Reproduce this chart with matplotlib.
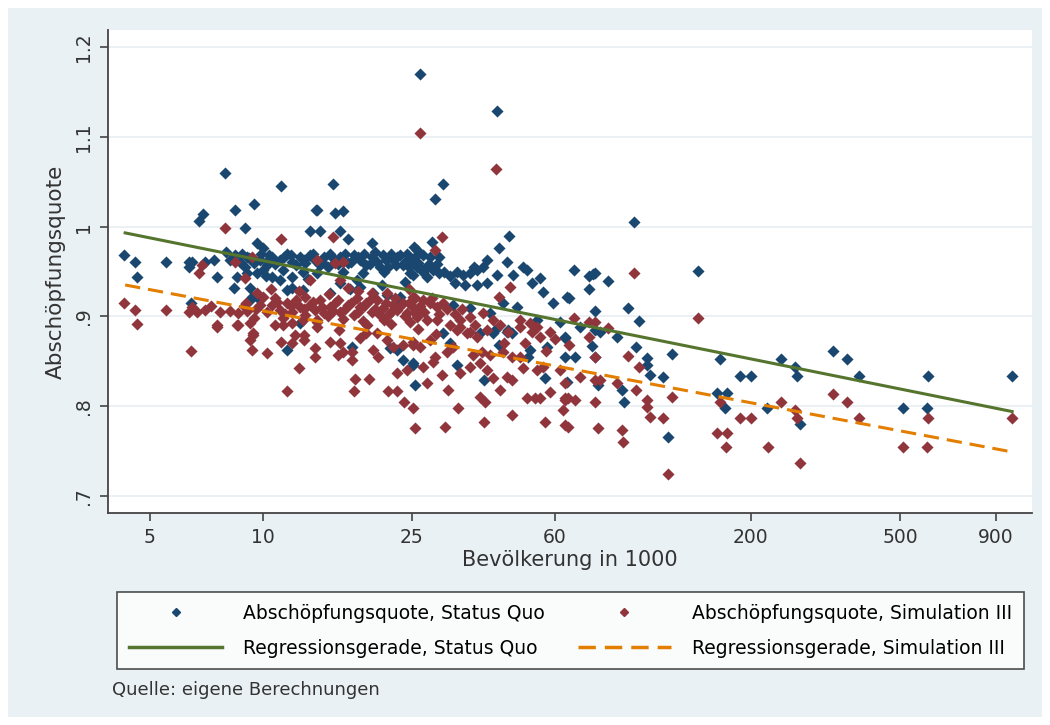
import numpy as np
import matplotlib
matplotlib.use("Agg")
import matplotlib.pyplot as plt
from matplotlib.patches import Rectangle
from matplotlib.lines import Line2D
from matplotlib.ticker import FixedLocator, NullLocator, FixedFormatter

plt.rcParams['font.family'] = ['DejaVu Sans']

# (Bevoelkerung in 1000, Abschoepfungsquote)
status_quo = [
    (7.92, 1.060), (9.46, 1.025), (8.43, 1.018), (6.92, 1.014), (6.76, 1.006), (8.96, 0.998),
    (9.64, 0.982), (10.0, 0.976), (4.26, 0.968), (4.56, 0.961), (5.52, 0.961), (4.62, 0.944),
    (6.35, 0.961), (6.35, 0.955), (7.01, 0.961), (7.54, 0.944), (8.53, 0.944), (9.07, 0.948),
    (9.64, 0.948), (9.24, 0.932), (6.43, 0.915), (9.24, 0.918), (8.17, 0.963), (8.43, 0.968),
    (8.69, 0.961), (9.07, 0.966), (9.46, 0.959), (9.82, 0.963), (10.26, 0.957), (10.4, 0.968),
    (8.96, 0.955), (10.0, 0.952), (6.5, 0.961), (7.4, 0.963), (8.0, 0.972), (8.4, 0.932),
    (9.36, 0.922), (9.7, 0.920), (13.9, 1.018), (14.2, 0.995),
    (10.6, 0.966), (11.1, 0.963), (11.6, 0.970), (12.0, 0.961), (12.6, 0.966), (13.0, 0.959),
    (13.4, 0.968), (13.8, 0.963), (14.2, 0.957), (14.6, 0.966), (15.1, 0.970), (15.6, 0.961),
    (16.1, 0.966), (16.9, 0.959), (17.5, 0.968), (18.2, 0.963), (18.9, 0.957), (19.6, 0.966),
    (20.2, 0.961), (20.9, 0.968), (21.6, 0.955), (22.2, 0.963), (22.8, 0.966), (23.6, 0.957),
    (24.2, 0.970), (25.1, 0.961), (25.8, 0.955), (11.3, 0.952), (12.8, 0.950), (14.0, 0.948),
    (16.4, 0.950), (18.5, 0.948), (21.0, 0.950), (24.7, 0.948),
    (8.8, 0.970), (9.2, 0.965), (9.9, 0.970), (10.3, 0.962), (10.8, 0.958), (11.4, 0.966),
    (11.9, 0.968), (12.3, 0.957), (12.9, 0.963), (13.6, 0.970), (14.4, 0.961), (14.9, 0.955),
    (15.4, 0.965), (15.9, 0.958), (16.6, 0.970), (17.2, 0.961), (17.9, 0.966), (18.6, 0.970),
    (19.3, 0.958), (19.9, 0.972), (20.5, 0.955), (21.3, 0.963), (22.0, 0.970), (22.6, 0.957),
    (23.3, 0.968), (23.9, 0.961), (24.5, 0.955), (25.5, 0.966), (26.0, 0.960), (26.8, 0.950),
    (27.7, 0.958), (28.5, 0.952), (29.2, 0.958), (30.5, 0.950), (31.5, 0.945), (33.0, 0.950),
    (36.5, 0.955), (10.2, 0.945), (13.2, 0.942), (17.8, 0.940), (20.8, 0.935), (24.0, 0.938),
    (11.2, 1.045), (15.4, 1.047), (14.0, 1.018), (15.6, 1.015), (16.4, 1.017), (13.4, 0.995),
    (16.1, 0.995), (16.9, 0.986), (19.6, 0.982), (25.3, 0.977),
    (10.6, 0.944), (11.95, 0.932), (12.8, 0.929), (15.1, 0.926), (18.2, 0.933), (19.7, 0.926),
    (21.4, 0.924), (22.5, 0.915), (23.2, 0.922), (11.1, 0.941), (12.0, 0.944), (11.6, 0.929),
    (12.6, 0.893), (11.6, 0.863), (17.3, 0.866), (21.8, 0.865), (22.8, 0.863), (23.6, 0.851),
    (25.1, 0.848), (25.5, 0.824), (16.1, 0.937), (17.1, 0.930),
    (26.2, 1.170), (42.1, 1.129),
    (30.2, 1.047), (28.8, 1.031), (45.3, 0.990), (42.6, 0.976), (28.2, 0.983),
    (25.8, 0.974), (26.7, 0.968), (27.9, 0.966), (29.6, 0.966),
    (24.7, 0.963), (26.2, 0.955), (27.4, 0.955),
    (25.1, 0.946), (27.4, 0.944), (29.6, 0.948),
    (39.6, 0.963), (38.6, 0.955), (37.2, 0.952), (35.7, 0.948), (34.2, 0.946),
    (44.8, 0.961), (49.4, 0.955), (50.6, 0.952), (54.8, 0.943),
    (32.5, 0.937), (34.6, 0.935), (37.2, 0.935), (39.6, 0.937),
    (42.1, 0.946), (46.5, 0.946), (52.2, 0.937), (55.8, 0.927),
    (59.4, 0.915), (64.7, 0.922),
    (32.1, 0.913), (35.7, 0.909), (40.4, 0.904), (43.7, 0.915), (47.6, 0.910),
    (30.2, 0.882), (41.1, 0.882), (44.8, 0.883), (53.8, 0.896), (67.5, 0.952),
    (32.9, 0.846), (25.1, 0.846), (38.9, 0.829), (42.6, 0.868), (46.1, 0.882), (45.1, 0.885),
    (51.5, 0.863), (50.9, 0.855), (57.2, 0.866), (56.5, 0.831), (63.9, 0.876), (64.7, 0.827),
    (31.5, 0.870), (37.9, 0.882), (41.6, 0.885),
    (97.6, 1.005), (74.1, 0.945), (75.9, 0.947), (76.9, 0.948), (83.2, 0.939), (74.1, 0.931),
    (65.5, 0.920), (145, 0.951), (94.1, 0.909), (101, 0.895), (76.9, 0.906), (62.0, 0.894),
    (63.9, 0.877), (70.1, 0.888), (76.9, 0.885), (79.2, 0.883), (87.9, 0.877), (75.5, 0.867),
    (98.8, 0.866), (63.9, 0.855), (68.0, 0.855), (76.9, 0.855), (106, 0.854), (106, 0.846),
    (108, 0.835), (123, 0.858), (117, 0.833), (166, 0.853), (187, 0.834), (200, 0.834),
    (241, 0.853), (262, 0.844), (266, 0.834), (271, 0.780), (331, 0.861), (361, 0.853),
    (389, 0.834), (509, 0.798), (594, 0.834), (590, 0.798), (995, 0.834), (78.3, 0.824),
    (90.7, 0.818), (91.8, 0.805), (120, 0.766), (163, 0.815), (173, 0.815), (171, 0.798),
    (221, 0.798),
]

simulation_iii = [
    (7.92, 0.999), (6.88, 0.957), (6.76, 0.948), (8.43, 0.961), (8.96, 0.943), (9.36, 0.966),
    (4.26, 0.915), (4.56, 0.907), (5.52, 0.907), (4.62, 0.892), (6.35, 0.905), (6.67, 0.905),
    (7.01, 0.907), (7.54, 0.890), (7.68, 0.905), (8.17, 0.906), (8.58, 0.904), (9.07, 0.906),
    (9.64, 0.926), (10.0, 0.922), (8.58, 0.890), (9.41, 0.882), (6.43, 0.861), (7.54, 0.888),
    (8.53, 0.890), (9.24, 0.893), (9.41, 0.879), (9.24, 0.874), (9.36, 0.863), (10.26, 0.859),
    (9.82, 0.913), (9.46, 0.898), (6.5, 0.910), (7.3, 0.912), (8.9, 0.912),
    (11.2, 0.986), (15.4, 0.988), (14.0, 0.963), (15.6, 0.959), (16.4, 0.961), (13.4, 0.941),
    (16.1, 0.941), (16.9, 0.932), (19.6, 0.926), (25.5, 0.920),
    (10.6, 0.913), (11.1, 0.907), (11.6, 0.915), (12.0, 0.905), (12.6, 0.910), (13.0, 0.902),
    (13.4, 0.913), (13.8, 0.907), (14.2, 0.918), (14.6, 0.904), (15.1, 0.910), (15.6, 0.915),
    (16.1, 0.905), (16.9, 0.913), (17.5, 0.902), (18.2, 0.910), (18.9, 0.915), (19.6, 0.905),
    (20.2, 0.918), (20.9, 0.909), (21.6, 0.902), (22.2, 0.913), (22.8, 0.907), (23.6, 0.915),
    (24.2, 0.904), (25.1, 0.910), (25.8, 0.902), (11.3, 0.898), (12.8, 0.896), (14.0, 0.894),
    (16.4, 0.897), (18.5, 0.895), (21.0, 0.896), (24.7, 0.894), (10.8, 0.920), (13.0, 0.922),
    (17.8, 0.921), (10.8, 0.890), (11.3, 0.890), (12.0, 0.893),
    (9.0, 0.915), (9.6, 0.908), (10.3, 0.905), (10.9, 0.916), (11.5, 0.903), (11.9, 0.912),
    (12.3, 0.918), (12.9, 0.908), (13.6, 0.916), (14.4, 0.910), (14.9, 0.900), (15.4, 0.906),
    (15.9, 0.918), (16.6, 0.908), (17.2, 0.915), (17.9, 0.905), (18.6, 0.912), (19.3, 0.918),
    (19.9, 0.908), (20.6, 0.901), (21.3, 0.915), (22.0, 0.905), (22.5, 0.920), (23.1, 0.910),
    (23.9, 0.900), (24.5, 0.915), (25.5, 0.905), (26.3, 0.912), (27.0, 0.905), (28.2, 0.920),
    (29.6, 0.903), (31.0, 0.908), (32.5, 0.903), (34.0, 0.908), (10.5, 0.930), (12.5, 0.928),
    (15.0, 0.925), (18.0, 0.928), (21.5, 0.926), (24.5, 0.930), (16.0, 0.885), (19.0, 0.890),
    (22.0, 0.892), (26.0, 0.886), (29.0, 0.880), (31.5, 0.890), (44.0, 0.870), (50.0, 0.870),
    (57.0, 0.862), (60.0, 0.875),
    (11.2, 0.871), (12.0, 0.870), (12.2, 0.879), (12.9, 0.879), (12.9, 0.874), (12.5, 0.843),
    (11.6, 0.817), (13.8, 0.865), (13.8, 0.855), (15.1, 0.871), (16.1, 0.870), (16.4, 0.860),
    (15.9, 0.857), (17.3, 0.860), (17.3, 0.851), (14.0, 0.888), (14.0, 0.896), (17.6, 0.830),
    (19.2, 0.830), (17.5, 0.817), (18.2, 0.876), (18.9, 0.882), (20.2, 0.882), (19.7, 0.863),
    (20.3, 0.855), (21.4, 0.874), (22.2, 0.866), (23.6, 0.868), (25.1, 0.871), (22.8, 0.837),
    (24.2, 0.840), (21.6, 0.817), (22.8, 0.817), (23.8, 0.805), (25.1, 0.798), (25.5, 0.776),
    (26.2, 1.104), (41.8, 1.064),
    (30.0, 0.988), (28.8, 0.974), (45.6, 0.933), (42.6, 0.922),
    (25.1, 0.922), (26.7, 0.918), (27.9, 0.915), (29.1, 0.910), (30.2, 0.915),
    (25.8, 0.899), (27.4, 0.896), (29.1, 0.896),
    (33.5, 0.896), (35.7, 0.899), (38.6, 0.904), (41.1, 0.896),
    (48.5, 0.896), (51.5, 0.893), (53.8, 0.888),
    (32.9, 0.885), (35.0, 0.882), (37.2, 0.877),
    (30.6, 0.777), (38.9, 0.782), (46.1, 0.790), (56.5, 0.782), (63.9, 0.779), (33.1, 0.798),
    (37.9, 0.810), (39.1, 0.805), (42.9, 0.818), (50.6, 0.809), (53.2, 0.809), (58.3, 0.816),
    (63.9, 0.809), (27.5, 0.826), (31.2, 0.818), (30.0, 0.835), (33.5, 0.837), (35.7, 0.844),
    (37.9, 0.848), (39.6, 0.840), (41.1, 0.831), (44.8, 0.833), (46.1, 0.829), (26.7, 0.844),
    (28.4, 0.849), (28.8, 0.855), (25.1, 0.868), (26.2, 0.866), (27.9, 0.874), (31.0, 0.860),
    (32.1, 0.866), (36.3, 0.857), (38.4, 0.860), (40.4, 0.857), (43.7, 0.860), (46.1, 0.855),
    (48.5, 0.855), (49.4, 0.843), (53.8, 0.840), (55.8, 0.844),
    (33.5, 0.888), (35.7, 0.883), (36.8, 0.890), (39.6, 0.885), (42.9, 0.890), (45.1, 0.883),
    (48.5, 0.888), (52.2, 0.883), (54.8, 0.877), (58.3, 0.883), (65.1, 0.809), (55.0, 0.809),
    (97.6, 0.948), (145, 0.898), (67.5, 0.898), (74.1, 0.894), (76.9, 0.894), (83.2, 0.887),
    (74.1, 0.877), (65.5, 0.868), (94.1, 0.856), (101, 0.844), (76.9, 0.855), (62.0, 0.840),
    (63.9, 0.826), (70.1, 0.833), (76.9, 0.829), (79.2, 0.829), (87.9, 0.826), (63.9, 0.807),
    (68.0, 0.807), (76.9, 0.805), (63.1, 0.796), (65.1, 0.777), (78.3, 0.776), (90.7, 0.773),
    (91.3, 0.760), (98.8, 0.818), (106, 0.807), (106, 0.799), (108, 0.788), (117, 0.787),
    (123, 0.810), (120, 0.724), (163, 0.770), (173, 0.770), (172, 0.755), (166, 0.805),
    (187, 0.787), (200, 0.787), (222, 0.755), (241, 0.805), (262, 0.796), (266, 0.787),
    (271, 0.737), (331, 0.814), (361, 0.805), (389, 0.787), (509, 0.755), (594, 0.787),
    (590, 0.755), (995, 0.787),
]

# regression lines, ends (straight on the log axis)
fit_pop = [4.3, 995]
fit_status_quo = [0.993, 0.794]
fit_simulation_iii = [0.935, 0.749]

x_ticks = [5, 10, 25, 60, 200, 500, 900]
y_ticks = [0.7, 0.8, 0.9, 1.0, 1.1, 1.2]
y_ticklabels = ['.7', '.8', '.9', '1', '1.1', '1.2']

navy = '#1a476f'
maroon = '#90353b'
green = '#55752f'
orange = '#e37e00'
dash = (0, (5, 2.6))

sq = np.array(status_quo)
sim = np.array(simulation_iii)

fig = plt.figure(figsize=(10.5, 7.25), dpi=100, facecolor='white')
fig.patches.append(Rectangle((8/1050, 8/725), 1034/1050, 709/725, transform=fig.transFigure,
                             facecolor='#e9f1f4', edgecolor='none', zorder=-10))

ax = fig.add_axes([108/1050, 1 - 513/725, 924/1050, 483/725])
ax.set_facecolor('white')
ax.set_xscale('log')
ax.set_xlim(3.87, 1124)
ax.set_ylim(0.681, 1.219)

ax.scatter(sq[:, 0], sq[:, 1], marker='D', s=38, color=navy, linewidths=0, zorder=3)
ax.scatter(sim[:, 0], sim[:, 1], marker='D', s=38, color=maroon, linewidths=0, zorder=4)
ax.plot(fit_pop, fit_status_quo, color=green, lw=2.2, zorder=5)
ax.plot(fit_pop, fit_simulation_iii, color=orange, lw=2.2, ls=dash, zorder=5)

ax.xaxis.set_major_locator(FixedLocator(x_ticks))
ax.xaxis.set_major_formatter(FixedFormatter([str(t) for t in x_ticks]))
ax.xaxis.set_minor_locator(NullLocator())
ax.set_yticks(y_ticks)
ax.set_yticklabels(y_ticklabels, rotation=90, va='center')
ax.yaxis.set_minor_locator(NullLocator())
ax.grid(axis='y', color='#e6eef1', lw=1.2, zorder=0)
ax.set_axisbelow(True)

for side in ['top', 'right']:
    ax.spines[side].set_visible(False)
for side in ['left', 'bottom']:
    ax.spines[side].set_color('#444444')
    ax.spines[side].set_linewidth(1.3)
ax.tick_params(axis='both', direction='out', length=6, width=1.2, color='#444444',
               labelsize=13.5, labelcolor='#333333', pad=5)

ax.set_xlabel('Bevölkerung in 1000', fontsize=15, color='#333333', labelpad=2)
ax.set_ylabel('Abschöpfungsquote', fontsize=15.5, color='#333333', labelpad=6)

handles = [
    Line2D([], [], marker='D', ls='none', color=navy, markersize=4.5),
    Line2D([], [], color=green, lw=2.5),
    Line2D([], [], marker='D', ls='none', color=maroon, markersize=4.5),
    Line2D([], [], color=orange, lw=2.5, ls=dash),
]
labels = ['Abschöpfungsquote, Status Quo', 'Regressionsgerade, Status Quo',
          'Abschöpfungsquote, Simulation III', 'Regressionsgerade, Simulation III']
leg = fig.legend(handles, labels, ncol=2, fontsize=13.5, loc='upper left',
                 bbox_to_anchor=(117/1050, 1 - 592/725), frameon=True, fancybox=False,
                 borderaxespad=0, handlelength=5.0, handletextpad=1.1, labelspacing=0.85,
                 borderpad=0.62, columnspacing=1.75)
leg.get_frame().set_edgecolor('#222222')
leg.get_frame().set_linewidth(1.2)
leg.get_frame().set_facecolor('white')

fig.text(112/1050, 1 - 690/725, 'Quelle: eigene Berechnungen', fontsize=13, color='#333333',
         va='center')

fig.savefig('out.png', dpi=100, facecolor=fig.get_facecolor())
